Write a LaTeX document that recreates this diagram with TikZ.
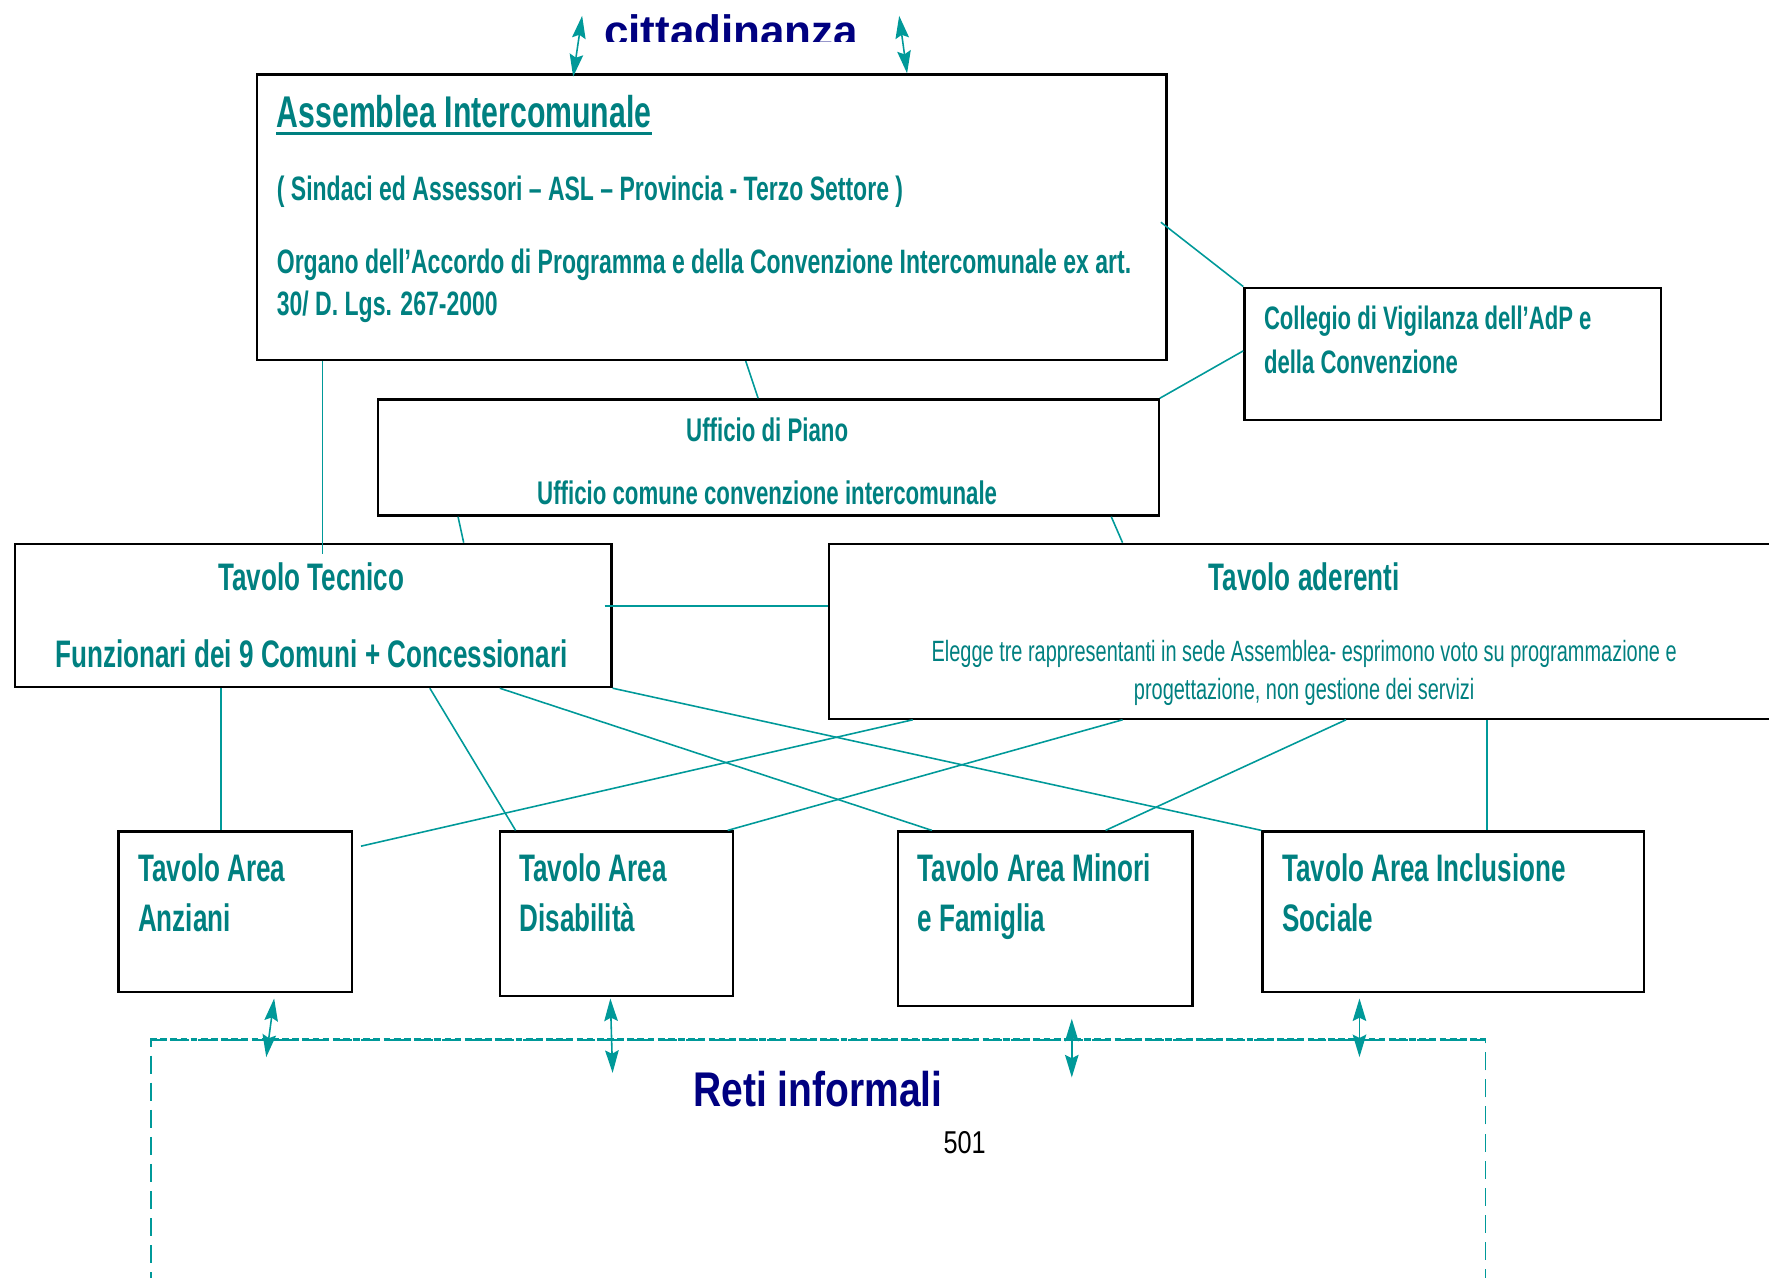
\documentclass[tikz,border=0pt]{standalone}
\usepackage{fontspec}
\usetikzlibrary{arrows.meta}

\newfontfamily\agency[FakeStretch=0.68]{Liberation Sans}
\newfontfamily\arialn[FakeStretch=0.8]{Liberation Sans}
\newfontfamily\arial{Liberation Sans}
\newcommand\agencyat[1]{\agency\bfseries\fontsize{#1}{#1}\selectfont}

\definecolor{tealtext}{RGB}{0,128,128}
\definecolor{tealline}{RGB}{0,153,153}
\definecolor{navytext}{RGB}{0,0,128}

\tikzset{
  panel/.style={draw=black, line width=1pt, anchor=north west, inner sep=0pt},
  link/.style={draw=tealline, line width=0.7pt},
  twoway/.style={draw=tealline, line width=0.7pt,
    {Stealth[length=10pt,width=6pt,inset=1.5pt]}-{Stealth[length=10pt,width=6pt,inset=1.5pt]}},
  lbl/.style={text=tealtext, inner sep=0pt, anchor=base west},
  lblc/.style={text=tealtext, inner sep=0pt, anchor=base},
}

\begin{document}
\begin{tikzpicture}[x=0.5pt,y=-0.5pt]

\path [use as bounding box] (0,0) rectangle (1568,1132);

% BOXES
\node[panel, minimum width=403pt, minimum height=126.5pt] (assemblea) at (227,65) {};
\node[panel, minimum width=184.5pt, minimum height=58.5pt] (collegio) at (1102,254) {};
\node[panel, minimum width=346pt, minimum height=51.5pt] (ufficio) at (334,353) {};
\node[panel, minimum width=264.5pt, minimum height=63.5pt] (tecnico) at (12,481) {};
\node[panel, minimum width=430pt, minimum height=77.5pt] (aderenti) at (734,481) {};
\node[panel, minimum width=103.5pt, minimum height=71pt] (anziani) at (104,736) {};
\node[panel, minimum width=103.5pt, minimum height=73pt] (disabili) at (442,736) {};
\node[panel, minimum width=130.5pt, minimum height=77.5pt] (minori) at (795,736) {};
\node[panel, minimum width=169pt, minimum height=71pt] (inclusione) at (1118,736) {};
\node[anchor=north west, inner sep=0pt, minimum width=591.5pt, minimum height=130pt,
  draw=tealline, line width=0.7pt, dash pattern=on 8pt off 4pt] (reti) at (133,921) {};
\draw[tealline, line width=1.3pt, dash pattern=on 3pt off 1.5pt] (reti.north west) -- (reti.north east);

% TEXTS
\begin{scope}
  \clip (0,0) rectangle (1568,37);
  \node[inner sep=0pt, anchor=base west, text=navytext, font=\arial\bfseries\fontsize{19.5}{19.5}\selectfont]
    (cittadinanza) at (535,41) {cittadinanza};
\end{scope}

\node[lbl, font=\agencyat{19.7}] (asstitle) at (245,113) {Assemblea Intercomunale};
\draw[tealtext, line width=1.2pt] ([yshift=-2.6pt]asstitle.base west) -- ([yshift=-2.6pt]asstitle.base east);
\node[lbl, font=\agencyat{15}] (asssub) at (245,178) {( Sindaci ed Assessori – ASL – Provincia - Terzo Settore )};
\node[lbl, font=\agencyat{15}] (assorg) at (245,242) {Organo dell’Accordo di Programma e della Convenzione Intercomunale ex art.};
\node[lbl, font=\agencyat{15}] (asslaw) at (245,280) {30/ D. Lgs. 267-2000};

\node[lbl, font=\agencyat{14.4}] (coll1) at (1120,292) {Collegio di Vigilanza dell’AdP e};
\node[lbl, font=\agencyat{14.4}] (coll2) at (1120,331) {della Convenzione};

\node[lblc, font=\agencyat{14.5}] (uff1) at (680,391) {Ufficio di Piano};
\node[lblc, font=\agencyat{14.5}] (uff2) at (680,447) {Ufficio comune convenzione intercomunale};

\node[lblc, font=\agencyat{17}] (tec1) at (276,523) {Tavolo Tecnico};
\node[lblc, font=\agencyat{17}] (tec2) at (276,592) {Funzionari dei 9 Comuni + Concessionari};

\node[lblc, font=\agencyat{17}] (ade1) at (1156,523) {Tavolo aderenti};
\node[lblc, font=\agency\fontsize{13}{13}\selectfont] (ade2) at (1156,586)
  {Elegge tre rappresentanti in sede Assemblea- esprimono voto su programmazione e};
\node[lblc, font=\agency\fontsize{13}{13}\selectfont] (ade3) at (1156,620)
  {progettazione, non gestione dei servizi};

\node[lbl, font=\agencyat{17}] (anz1) at (122,781) {Tavolo Area};
\node[lbl, font=\agencyat{17}] (anz2) at (122,826) {Anziani};
\node[lbl, font=\agencyat{17}] (dis1) at (460,781) {Tavolo Area};
\node[lbl, font=\agencyat{17}] (dis2) at (460,826) {Disabilità};
\node[lbl, font=\agencyat{17}] (min1) at (813,781) {Tavolo Area Minori};
\node[lbl, font=\agencyat{17}] (min2) at (813,826) {e Famiglia};
\node[lbl, font=\agencyat{17}] (inc1) at (1136,781) {Tavolo Area Inclusione};
\node[lbl, font=\agencyat{17}] (inc2) at (1136,826) {Sociale};

\node[inner sep=0pt, anchor=base, text=navytext, font=\arialn\bfseries\fontsize{21.6}{21.6}\selectfont]
  (retilabel) at (725,981) {Reti informali};
\node[inner sep=0pt, anchor=base, font=\arialn\fontsize{14}{14}\selectfont] (pagenum) at (855,1022) {501};

% LINKS
\draw[link] ([xshift=-3pt,yshift=-66pt]assemblea.north east) -- (collegio.north west);
\draw[link] (ufficio.north east) -- ([yshift=-28.5pt]collegio.north west);
\draw[link] ([xshift=217pt]assemblea.south west) -- ([xshift=169pt]ufficio.north west);
\draw[link] ([xshift=29.5pt]assemblea.south west) -- ([xshift=137pt,yshift=-5pt]tecnico.north west);
\draw[link] ([xshift=36pt]ufficio.south west) -- ([xshift=199.5pt]tecnico.north west);
\draw[link] ([xshift=325.5pt]ufficio.south west) -- ([xshift=130.5pt]aderenti.north west);
\draw[link] ([xshift=-3.5pt,yshift=-28pt]tecnico.north east) -- ([yshift=-28pt]aderenti.north west);
\draw[link] ([xshift=92pt]tecnico.south west) -- ([xshift=46pt]anziani.north west);
\draw[link] ([xshift=184.5pt]tecnico.south west) -- ([xshift=7.5pt]disabili.north west);
\draw[link] ([xshift=215.5pt]tecnico.south west) -- ([xshift=15.5pt]minori.north west);
\draw[link] (tecnico.south east) -- (inclusione.north west);
\draw[link] ([xshift=37.5pt]aderenti.south west) -- ([xshift=3.5pt,yshift=-7pt]anziani.north east);
\draw[link] ([xshift=130.5pt]aderenti.south west) -- ([xshift=-3pt]disabili.north east);
\draw[link] ([xshift=229.5pt]aderenti.south west) -- ([xshift=92.5pt]minori.north west);
\draw[link] ([xshift=292pt]aderenti.south west) -- ([xshift=100pt]inclusione.north west);

% ARROWS
\coordinate (citleft) at (516,14);
\coordinate (citright) at (797,14);
\draw[twoway] (citleft) -- ([xshift=140.5pt,yshift=-1.5pt]assemblea.north west);
\draw[twoway] (citright) -- ([xshift=288.5pt]assemblea.north west);
\draw[twoway] ([xshift=69.5pt,yshift=-2.5pt]anziani.south west) -- ([xshift=51.5pt,yshift=-8pt]reti.north west);
\draw[twoway] ([xshift=49.5pt,yshift=-0.5pt]disabili.south west) -- ([xshift=205pt,yshift=-15pt]reti.north west);
\draw[twoway] ([xshift=77.5pt,yshift=-5pt]minori.south west) -- ([xshift=408.5pt,yshift=-17pt]reti.north west);
\draw[twoway] ([xshift=43.5pt,yshift=-2.5pt]inclusione.south west) -- ([xshift=536pt,yshift=-8pt]reti.north west);

\end{tikzpicture}
\end{document}
